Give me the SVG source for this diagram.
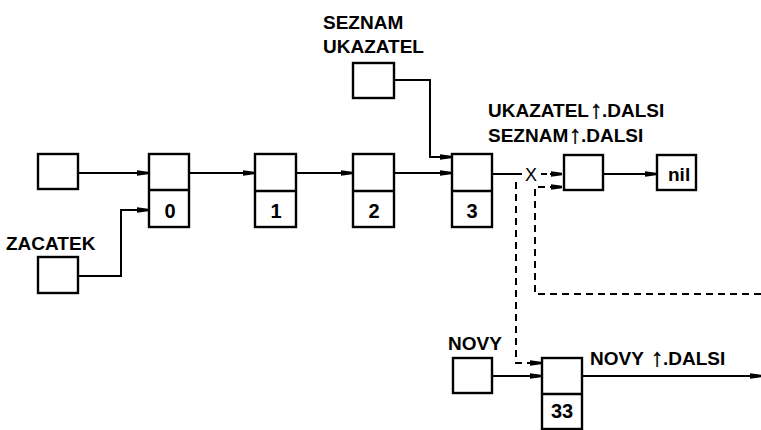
<svg xmlns="http://www.w3.org/2000/svg" width="761" height="430" viewBox="0 0 761 430">
<style>
.box{fill:#fff;stroke:#000;stroke-width:2.4}
.div{stroke:#000;stroke-width:2.4}
.c{fill:none;stroke:#000;stroke-width:1.3;shape-rendering:crispEdges}
.d{fill:none;stroke:#000;stroke-width:1.3;stroke-dasharray:7 5;shape-rendering:crispEdges}
text{font-family:"Liberation Sans",Arial,sans-serif;font-size:19px;font-weight:bold;fill:#000}
.v{text-anchor:middle;font-size:20px}
.ar{font-size:25px;font-weight:bold;text-anchor:middle;stroke:#000;stroke-width:0.5}
</style>
<defs>
<marker id="ah" markerWidth="11" markerHeight="8" refX="11" refY="4" orient="auto" markerUnits="userSpaceOnUse">
<path d="M0,1.2 L11,2.8 L11,5.2 L0,6.8 Z" fill="#000"/>
</marker>
</defs>
<rect width="761" height="430" fill="#fff"/>
<g id="connectors">
<path class="c" d="M70,173 H148" marker-end="url(#ah)"/>
<path class="c" d="M180,173 H254" marker-end="url(#ah)"/>
<path class="c" d="M285,173 H352" marker-end="url(#ah)"/>
<path class="c" d="M385,173 H451" marker-end="url(#ah)"/>
<path class="c" d="M70,276 H121 V210 H148" marker-end="url(#ah)"/>
<path class="c" d="M385,80 H430 V157 H451" marker-end="url(#ah)"/>
<path class="c" d="M483,174 H522"/>
<path class="c" d="M541,174 H562" stroke-dasharray="6 3" marker-end="url(#ah)"/>
<path class="d" d="M516,182 V363 H541" marker-end="url(#ah)"/>
<path class="d" d="M761,294 H535 V187 H562" marker-end="url(#ah)"/>
<path class="c" d="M593,174 H656" marker-end="url(#ah)"/>
<path class="c" d="M483,376 H541" marker-end="url(#ah)"/>
<path class="c" d="M567,376 H761" marker-end="url(#ah)"/>
<text x="531" y="181" text-anchor="middle" style="font-size:18px;font-weight:normal">X</text>
</g>
<g id="ptrA"><rect class="box" x="38" y="154" width="40" height="35"/></g>
<g id="zacatek"><text x="6" y="250">ZACATEK</text><rect class="box" x="38" y="257" width="40" height="36"/></g>
<g id="seznam-ukazatel"><text x="323" y="29">SEZNAM</text><text x="323" y="53">UKAZATEL</text><rect class="box" x="353" y="63" width="41" height="35"/></g>
<g id="node0"><rect class="box" x="149" y="154" width="40" height="73"/><line class="div" x1="149" y1="190" x2="189" y2="190"/><text x="170" y="218" class="v">0</text></g>
<g id="node1"><rect class="box" x="255" y="154" width="41" height="73"/><line class="div" x1="255" y1="191" x2="296" y2="191"/><text x="276" y="218" class="v">1</text></g>
<g id="node2"><rect class="box" x="353" y="154" width="41" height="73"/><line class="div" x1="353" y1="191" x2="394" y2="191"/><text x="374" y="218" class="v">2</text></g>
<g id="node3"><rect class="box" x="452" y="154" width="40" height="73"/><line class="div" x1="452" y1="191" x2="492" y2="191"/><text x="472" y="218" class="v">3</text></g>
<g id="dalsi">
<text x="488" y="117">UKAZATEL</text><text class="ar" x="596" y="118">↑</text><text x="602" y="117">.DALSI</text>
<text x="488" y="142">SEZNAM</text><text class="ar" x="575" y="143">↑</text><text x="581" y="142">.DALSI</text>
<rect class="box" x="564" y="155" width="39" height="35"/></g>
<g id="nil"><rect class="box" x="657" y="155" width="39" height="35"/><text x="668" y="181">nil</text></g>
<g id="novy"><text x="448" y="350">NOVY</text><rect class="box" x="453" y="358" width="39" height="35"/></g>
<g id="node33"><rect class="box" x="542" y="358" width="40" height="71"/><line class="div" x1="542" y1="394" x2="582" y2="394"/><text x="562" y="418" class="v">33</text>
<text x="590" y="365">NOVY</text><text class="ar" x="657" y="366">↑</text><text x="663" y="365">.DALSI</text></g>
</svg>
